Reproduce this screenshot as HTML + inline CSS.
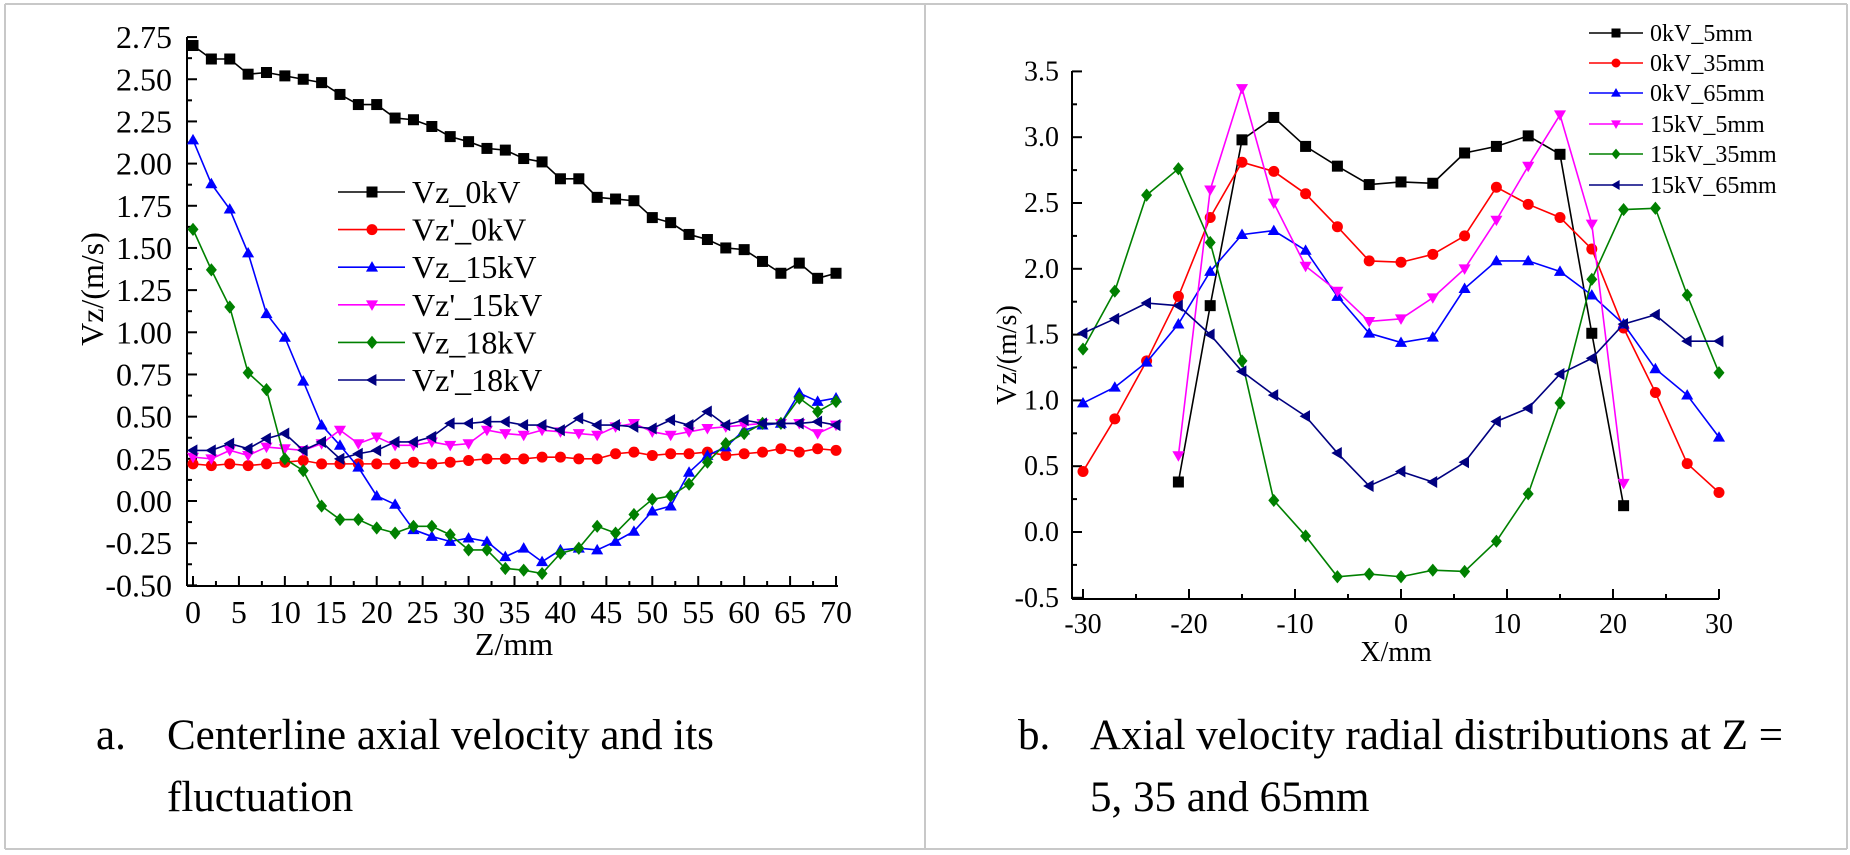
<!DOCTYPE html>
<html><head><meta charset="utf-8">
<style>
html,body{margin:0;padding:0;background:#fff;}
svg{display:block;font-family:"Liberation Serif","Times New Roman",serif;}
svg text{font-family:"Liberation Serif","Times New Roman",serif;fill:#000;}
</style></head>
<body>
<svg id="s" width="1850" height="855" xmlns="http://www.w3.org/2000/svg" font-family="Liberation Serif, serif">
<rect x="0" y="0" width="1850" height="855" fill="#fff"/>
<line x1="5" y1="4" x2="1847" y2="4" stroke="#c8c8c8" stroke-width="2"/>
<line x1="5" y1="849" x2="1847" y2="849" stroke="#c8c8c8" stroke-width="2"/>
<line x1="5" y1="4" x2="5" y2="849" stroke="#c8c8c8" stroke-width="2"/>
<line x1="1847" y1="4" x2="1847" y2="849" stroke="#c8c8c8" stroke-width="2"/>
<line x1="925" y1="4" x2="925" y2="849" stroke="#c8c8c8" stroke-width="2"/>
<g id="g"></g>
<text x="96" y="749" font-size="43">a.</text>
<text x="167" y="749" font-size="43">Centerline axial velocity and its</text>
<text x="167" y="811" font-size="43">fluctuation</text>
<text x="1018" y="749" font-size="43">b.</text>
<text x="1090" y="749" font-size="43">Axial velocity radial distributions at Z =</text>
<text x="1090" y="811" font-size="43">5, 35 and 65mm</text>
</svg>
<script>
var g=document.getElementById('g');var h='';
function ln(a,b,c,d,w,col){h+='<line x1="'+a+'" y1="'+b+'" x2="'+c+'" y2="'+d+'" stroke="'+(col||'#000')+'" stroke-width="'+(w||2)+'"/>';}
function tx(x,y,t,fs,anc,extra){h+='<text font-family="Liberation Serif, serif" x="'+x+'" y="'+y+'" font-size="'+fs+'" text-anchor="'+(anc||'start')+'" '+(extra||'')+'>'+t+'</text>';}
function mk(type,x,y,s,col){var r=s/2;
 if(type=='sq')h+='<rect x="'+(x-r)+'" y="'+(y-r)+'" width="'+s+'" height="'+s+'" fill="'+col+'"/>';
 else if(type=='ci')h+='<circle cx="'+x+'" cy="'+y+'" r="'+r+'" fill="'+col+'"/>';
 else{var p;
  if(type=='tu')p=[[x,y-r*1.1],[x+r*1.1,y+r*0.8],[x-r*1.1,y+r*0.8]];
  if(type=='td')p=[[x,y+r*1.1],[x+r*1.1,y-r*0.8],[x-r*1.1,y-r*0.8]];
  if(type=='di')p=[[x,y-r*1.2],[x+r,y],[x,y+r*1.2],[x-r,y]];
  if(type=='tl')p=[[x-r*1.1,y],[x+r*0.8,y-r*1.1],[x+r*0.8,y+r*1.1]];
  h+='<polygon points="'+p.map(function(q){return q.join(',')}).join(' ')+'" fill="'+col+'"/>';}}
function series(xs,ys,fx,fy,type,col,s){var pts=[];for(var i=0;i<xs.length;i++)pts.push(fx(xs[i])+','+fy(ys[i]));
 h+='<polyline points="'+pts.join(' ')+'" fill="none" stroke="'+col+'" stroke-width="1.6"/>';
 for(var i=0;i<xs.length;i++)mk(type,fx(xs[i]),fy(ys[i]),s,col);}
var C=['#000','#ff0000','#0000ff','#ff00ff','#008000','#000080'];
var T=['sq','ci','tu','td','di','tl'];
var lx=function(z){return 193+z*9.186},ly=function(v){return 501-v*168.7};
ln(187,37,187,586);ln(187,586,838,586);
for(var i=0;i<=26;i++){var v=-0.5+i*0.125,y=ly(v);ln(187,y,187+(i%2==0?10:5),y);if(i%2==0)tx(172,y+11,v.toFixed(2),32,'end');}
for(var i=0;i<=28;i++){var z=i*2.5,x=lx(z);ln(x,586,x,586-(i%2==0?10:5));if(i%2==0)tx(x,623,z,32,'middle');}
tx(514,655,'Z/mm',32,'middle');
tx(0,0,'Vz/(m/s)',32,'middle','transform="translate(103,289) rotate(-90)"');
var Z=[];for(var i=0;i<=35;i++)Z.push(i*2);
var L=[
[2.70,2.62,2.62,2.53,2.54,2.52,2.50,2.48,2.41,2.35,2.35,2.27,2.26,2.22,2.16,2.13,2.09,2.08,2.03,2.01,1.91,1.91,1.80,1.79,1.78,1.68,1.65,1.58,1.55,1.50,1.49,1.42,1.35,1.41,1.32,1.35],
[0.22,0.21,0.22,0.21,0.22,0.23,0.24,0.22,0.22,0.22,0.22,0.22,0.23,0.22,0.23,0.24,0.25,0.25,0.25,0.26,0.26,0.25,0.25,0.28,0.29,0.27,0.28,0.28,0.29,0.27,0.28,0.29,0.31,0.29,0.31,0.30],
[2.14,1.88,1.73,1.47,1.11,0.97,0.71,0.45,0.33,0.20,0.03,-0.02,-0.17,-0.21,-0.24,-0.22,-0.24,-0.33,-0.28,-0.36,-0.29,-0.28,-0.29,-0.24,-0.18,-0.06,-0.03,0.17,0.27,0.32,0.42,0.45,0.46,0.64,0.59,0.61],
[0.26,0.25,0.30,0.27,0.32,0.31,0.30,0.34,0.42,0.34,0.38,0.33,0.33,0.35,0.33,0.34,0.42,0.40,0.39,0.42,0.41,0.40,0.39,0.44,0.46,0.41,0.39,0.41,0.43,0.44,0.45,0.46,0.46,0.46,0.40,0.45],
[1.61,1.37,1.15,0.76,0.66,0.25,0.18,-0.03,-0.11,-0.11,-0.16,-0.19,-0.15,-0.15,-0.20,-0.29,-0.29,-0.40,-0.41,-0.43,-0.31,-0.28,-0.15,-0.19,-0.08,0.01,0.03,0.10,0.23,0.34,0.40,0.46,0.46,0.61,0.53,0.59],
[0.30,0.30,0.34,0.31,0.37,0.40,0.30,0.35,0.25,0.28,0.30,0.35,0.35,0.38,0.46,0.46,0.47,0.47,0.45,0.45,0.42,0.49,0.45,0.45,0.44,0.43,0.48,0.45,0.53,0.45,0.48,0.46,0.46,0.46,0.47,0.45]];
for(var k=0;k<6;k++)series(Z,L[k],lx,ly,T[k],C[k],11);
var LN=["Vz_0kV","Vz'_0kV","Vz_15kV","Vz'_15kV","Vz_18kV","Vz'_18kV"];
for(var k=0;k<6;k++){var y=192+k*37.6;ln(338,y,405,y,1.6,C[k]);mk(T[k],372,y,11,C[k]);tx(412,y+11,LN[k],32);}
var rx=function(x){return 1401+x*10.6},ry=function(v){return 532-v*131.6};
ln(1072,71,1072,599);ln(1072,599,1719,599);
for(var i=0;i<=16;i++){var v=-0.5+i*0.25,y=ry(v);ln(1072,y,1072+(i%2==0?10:5),y);if(i%2==0)tx(1059,y+9,v.toFixed(1),28,'end');}
for(var i=0;i<=12;i++){var xv=-30+i*5,x=rx(xv);ln(x,599,x,599-(i%2==0?10:5));if(i%2==0)tx(x,633,xv,28,'middle');}
tx(1396,661,'X/mm',28,'middle');
tx(0,0,'Vz/(m/s)',28,'middle','transform="translate(1016,355) rotate(-90)"');
var X=[];for(var i=0;i<=20;i++)X.push(-30+i*3);
var X5=X.slice(3,18);
var R=[
[X5,[0.38,1.72,2.98,3.15,2.93,2.78,2.64,2.66,2.65,2.88,2.93,3.01,2.87,1.51,0.20]],
[X,[0.46,0.86,1.30,1.79,2.39,2.81,2.74,2.57,2.32,2.06,2.05,2.11,2.25,2.62,2.49,2.39,2.15,1.55,1.06,0.52,0.30]],
[X,[0.98,1.10,1.29,1.58,1.98,2.26,2.29,2.14,1.79,1.51,1.44,1.48,1.85,2.06,2.06,1.98,1.80,1.58,1.24,1.04,0.72]],
[X5,[0.58,2.60,3.37,2.50,2.02,1.83,1.60,1.62,1.78,2.00,2.37,2.78,3.17,2.34,0.37]],
[X,[1.39,1.83,2.56,2.76,2.20,1.30,0.24,-0.03,-0.34,-0.32,-0.34,-0.29,-0.30,-0.07,0.29,0.98,1.92,2.45,2.46,1.80,1.21]],
[X,[1.51,1.62,1.74,1.72,1.50,1.22,1.04,0.88,0.60,0.35,0.46,0.38,0.53,0.84,0.94,1.20,1.32,1.58,1.65,1.45,1.45]]];
for(var k=0;k<6;k++)series(R[k][0],R[k][1],rx,ry,T[k],C[k],11);
var RN=["0kV_5mm","0kV_35mm","0kV_65mm","15kV_5mm","15kV_35mm","15kV_65mm"];
var RY=[33,63,93,124,154,185];
for(var k=0;k<6;k++){var y=RY[k];ln(1589,y,1643,y,1.6,C[k]);mk(T[k],1616,y,9,C[k]);tx(1650,y+8,RN[k],24);}
g.innerHTML=h;
</script>
</body></html>
